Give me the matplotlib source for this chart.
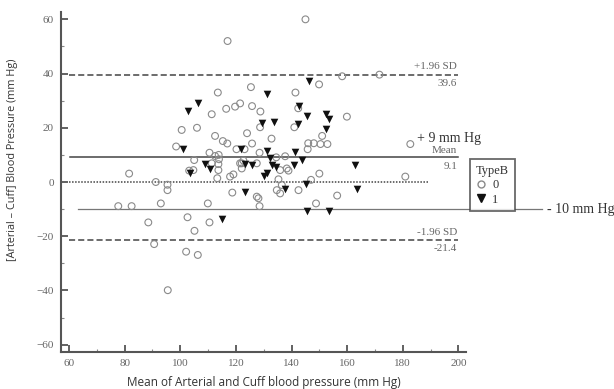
import matplotlib
matplotlib.use("Agg")
import matplotlib.pyplot as plt
from matplotlib.lines import Line2D

# type 0 (open circles): mean of arterial & cuff, difference
x0 = [145, 117, 113.5, 125.4, 141.4, 149.9, 158.2, 171.6,
      116.5, 119.7, 121.5, 125.8, 128.8, 111.3, 142.4, 159.9,
      100.5, 106, 128.7, 141, 124, 112.5, 132.8, 151,
      115.3, 116.9, 125.8, 146, 148, 150.4, 152.9, 182.7,
      98.5, 120.2, 123.1, 110.5, 128.5, 113.8, 113.9, 134.5, 137.7, 145.8, 112.5,
      105, 104.7, 103.2, 81.6, 91.2, 95.4, 95.4, 111.3, 113.7, 113.7, 122.1, 127.5,
      113.3, 117.9, 119.1, 122.1, 138.3, 135.9, 138.9, 147, 150, 180.9,
      121.5, 122.7, 135.3,
      134.7, 127.5, 142.5, 118.7, 136.5, 135.9, 128.1, 128.5, 148.8, 156.4,
      77.7, 82.5, 93, 88.5, 90.6, 102.6, 105.1, 102.1, 106.3, 109.9, 110.5, 95.5]
d0 = [60, 52, 33, 35, 33, 36, 39, 39.6,
      27, 27.8, 29, 28, 26, 25, 27.2, 24.1,
      19.2, 20, 20.2, 20.2, 18, 17, 16, 17,
      15.1, 14.2, 14.2, 14.3, 14.3, 14, 14, 14,
      13.1, 12.1, 12.1, 10.8, 10.8, 10, 8.4, 9.1, 9.5, 12.1, 9.6,
      8.1, 4.4, 4.2, 3.1, 0, -1, -3, 6.9, 6.6, 4.4, 6.9, 6.9,
      1.4, 2, 2.8, 5, 5, 4.4, 4.2, 0.8, 3.1, 2,
      6.9, 7.9, 1,
      -3, -5.4, -3, -3.9, -1.1, -4.2, -6, -8.9, -7.9, -5,
      -8.9, -8.9, -7.9, -14.9, -22.9, -13, -18, -25.7, -26.9, -7.9, -14.9, -39.9]

# type 1 (filled triangles)
x1 = [102.9, 106.3, 131, 146.2, 142.8, 145.6, 152.5, 153.6, 152.3, 133.8, 129.3, 142.2,
      100.9, 103.5, 121.9, 131.3, 141.3, 108.9, 110.7, 123.4, 125.8, 132.3, 132.9, 134.5,
      130, 131.3, 140.9, 143.8, 162.9, 123.1, 137.6, 145.3, 163.5, 114.9, 145.4, 153.3]
d1 = [26.3, 29.3, 32.3, 37.3, 28.2, 24.2, 25.2, 23.2, 19.5, 22.3, 21.6, 21.4,
      12.3, 3.3, 12.2, 11.3, 11.2, 6.5, 4.7, 6.8, 6.2, 9, 6.2, 5.4,
      2.2, 3.3, 6.3, 8.3, 6.3, -3.8, -2.7, -0.6, -2.7, -13.8, -10.8, -10.8]

mean_diff = 9.1
upper = 39.6
lower = -21.4

gray = "#444444"
tgray = "#666666"
serif = ["Liberation Serif", "DejaVu Serif"]

fig = plt.figure(figsize=(6.14, 3.89), dpi=100)
ax = fig.add_axes([0.0993, 0.0951, 0.66, 0.874])

ax.scatter(x0, d0, s=24, facecolors="none", edgecolors="#8a8a8a", linewidths=0.8, zorder=3)
ax.scatter(x1, d1, s=30, marker="v", color="#111111", linewidths=0, zorder=4)

# reference lines
ax.plot([60, 200], [upper, upper], ls=(0, (4, 2)), color=gray, lw=1.1)
ax.plot([60, 200], [lower, lower], ls=(0, (4, 2)), color=gray, lw=1.1)
ax.plot([60.4, 200], [mean_diff, mean_diff], color=gray, lw=1.1)
ax.plot([60, 189], [0, 0], ls=(0, (1, 1)), color=gray, lw=1.1)
ax.plot([63.4, 230], [-10, -10], color="#777777", lw=0.9, clip_on=False)

ax.text(199.5, upper + 1.2, "+1.96 SD", ha="right", va="bottom", fontsize=8, color=tgray, family=serif)
ax.text(199.5, upper - 1.6, "39.6", ha="right", va="top", fontsize=8, color=tgray, family=serif)
ax.text(199.5, mean_diff + 0.8, "Mean", ha="right", va="bottom", fontsize=8, color=tgray, family=serif)
ax.text(199.5, mean_diff - 1.8, "9.1", ha="right", va="top", fontsize=8, color=tgray, family=serif)
ax.text(199.5, lower + 1.2, "-1.96 SD", ha="right", va="bottom", fontsize=8, color=tgray, family=serif)
ax.text(199.5, lower - 1.6, "-21.4", ha="right", va="top", fontsize=8, color=tgray, family=serif)
ax.text(185, 16.0, "+ 9 mm Hg", ha="left", va="center", fontsize=10, color="#333333", family=serif)
ax.text(232, -10, "- 10 mm Hg", ha="left", va="center", fontsize=10, color="#333333",
        family=serif, clip_on=False)

ax.set_xlim(57.1, 202.8)
ax.set_ylim(-62.7, 62.7)
ax.set_xticks(range(60, 201, 20))
ax.set_xticks(range(70, 200, 20), minor=True)
ax.set_yticks(range(-60, 61, 20))
ax.set_yticks(range(-50, 60, 20), minor=True)
for sp in ["top", "right"]:
    ax.spines[sp].set_visible(False)
for sp in ["left", "bottom"]:
    ax.spines[sp].set_color("#555555")
    ax.spines[sp].set_linewidth(1.5)
ax.tick_params(which="major", direction="in", length=5, width=1.3, color="#555555",
               labelsize=8, labelcolor=tgray, pad=5)
ax.tick_params(which="minor", direction="in", length=2.5, width=0.8, color="#888888")
for lab in ax.get_xticklabels() + ax.get_yticklabels():
    lab.set_family(serif)

ax.set_xlabel("Mean of Arterial and Cuff blood pressure (mm Hg)", fontsize=8.5,
              color="#333333", family="Open Sans", labelpad=6)
ax.set_ylabel("[Arterial \u2013 Cuff] Blood Pressure (mm Hg)", fontsize=7.8,
              color="#333333", family="Open Sans")
ax.yaxis.set_label_coords(-0.106, 0.565)

handles = [Line2D([], [], ls="none", marker="o", mfc="none", mec="#8a8a8a", ms=5, label="0"),
           Line2D([], [], ls="none", marker="v", color="#111111", ms=6, label="1")]
leg = ax.legend(handles=handles, title="TypeB", loc="upper left", bbox_to_anchor=(1.01, 0.568),
                frameon=True, fancybox=False, prop={"family": serif, "size": 9},
                handlelength=0.8, handletextpad=0.5, borderpad=0.45, labelspacing=0.2,
                borderaxespad=0)
leg.get_title().set_family(serif)
leg.get_title().set_fontsize(9)
leg.get_title().set_color("#333333")
leg._legend_box.align = "left"
leg.get_frame().set_edgecolor("#444444")
leg.get_frame().set_linewidth(1.3)
for t in leg.get_texts():
    t.set_color("#333333")

fig.savefig("out.png", dpi=100)
